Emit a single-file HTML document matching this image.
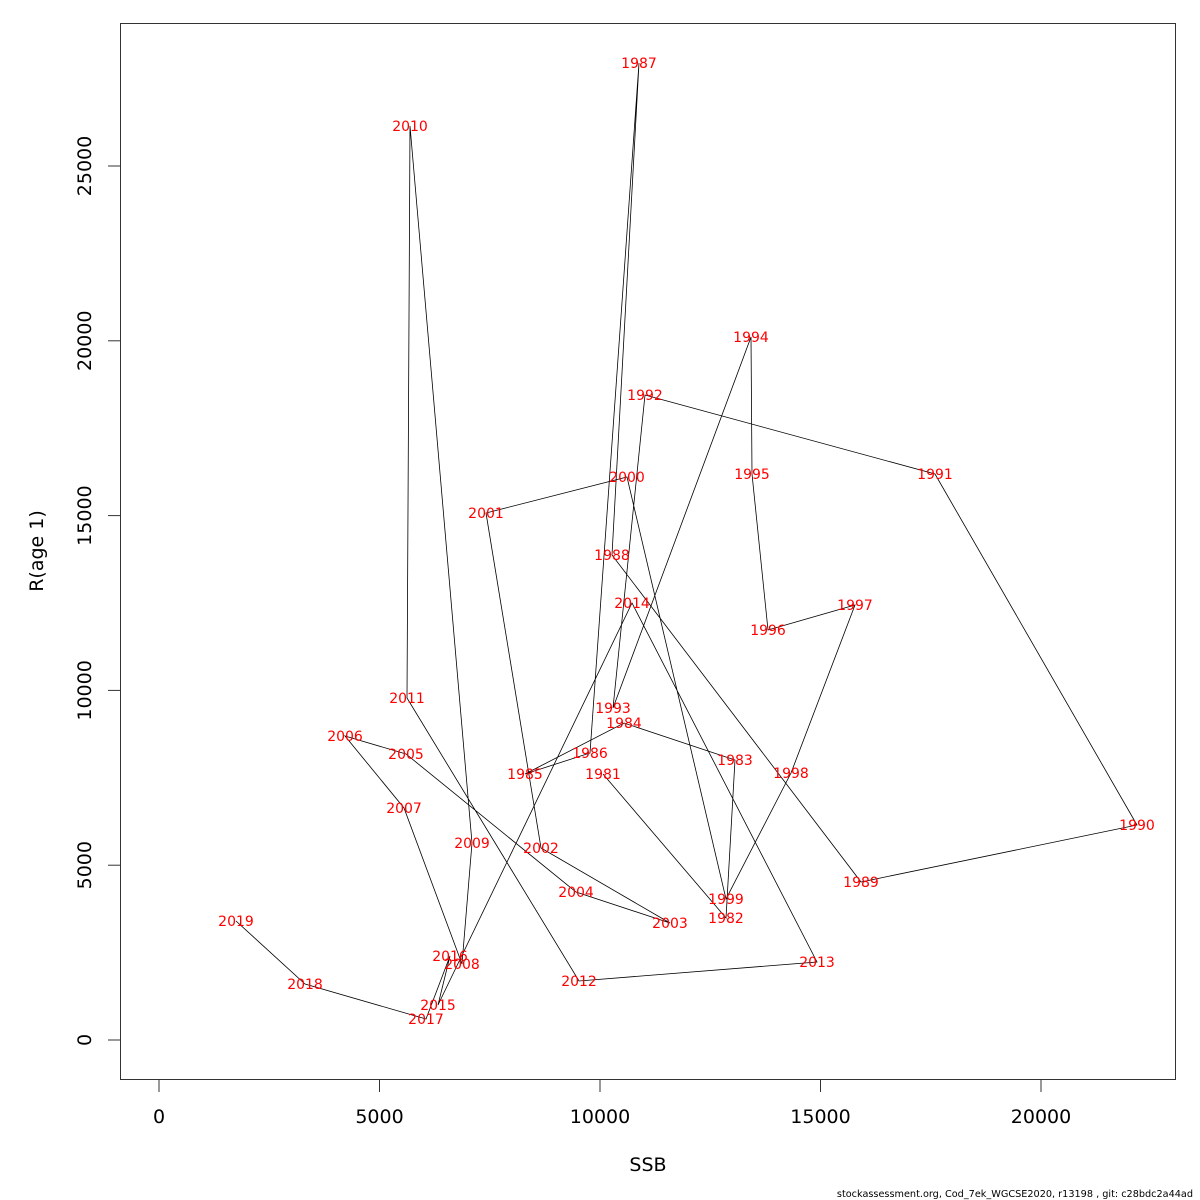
<!DOCTYPE html>
<html><head><meta charset="utf-8"><style>
html,body{margin:0;padding:0;background:#fff;}
svg{display:block;font-family:"DejaVu Sans","Liberation Sans",sans-serif;}
</style></head><body>
<svg id="chart" width="1200" height="1200" viewBox="0 0 1200 1200">
<rect x="120.5" y="23.5" width="1055" height="1056" fill="none" stroke="#333" stroke-width="1"/>
<g id="axes"></g>
<g id="series"></g>
<g id="labels"></g>
<text x="648" y="1171" font-size="19" text-anchor="middle">SSB</text>
<text transform="translate(43,551) rotate(-90)" font-size="19" text-anchor="middle">R(age 1)</text>
<text x="1193" y="1197" font-size="9.7" text-anchor="end">stockassessment.org, Cod_7ek_WGCSE2020, r13198 , git: c28bdc2a44ad</text>
</svg>
<script>
const years=[1981,1982,1983,1984,1985,1986,1987,1988,1989,1990,1991,1992,1993,1994,1995,1996,1997,1998,1999,2000,2001,2002,2003,2004,2005,2006,2007,2008,2009,2010,2011,2012,2013,2014,2015,2016,2017,2018,2019];
const ssb=[10068,12857,13061,10544,8299,9773,10884,10272,15918,22177,17596,11020,10295,13424,13447,13810,15782,14331,12857,10612,7415,8662,11587,9456,5601,4218,5556,6871,7098,5692,5624,9524,14921,10726,6327,6599,6054,3311,1746];
const rec=[7609,3490,8009,9067,7609,8209,27946,13873,4519,6150,16190,18450,9497,20109,16190,11728,12443,7637,4033,16104,15074,5492,3347,4233,8181,8696,6636,2174,5635,26144,9783,1688,2231,12500,1001,2403,601,1602,3404];
const xTicks=[0,5000,10000,15000,20000];
const yTicks=[0,5000,10000,15000,20000,25000];
const NS="http://www.w3.org/2000/svg";
function X(v){return 159+v*882/20000;}
function Y(v){return 1040-v*874/25000;}
function mk(t,a,p){const e=document.createElementNS(NS,t);for(const k in a)e.setAttribute(k,a[k]);p.appendChild(e);return e;}
const ax=document.getElementById('axes'),se=document.getElementById('series'),lb=document.getElementById('labels');
xTicks.forEach(v=>{
  const l=mk('line',{x1:X(v),x2:X(v),y1:1080,y2:1092,stroke:'#333'},ax);
  
  
  const t=mk('text',{x:X(v),y:1123,'font-size':19,'text-anchor':'middle'},ax);t.textContent=v;
  
  
});
yTicks.forEach(v=>{
  const l=mk('line',{x1:108,x2:120,y1:Y(v),y2:Y(v),stroke:'#333'},ax);
  
  
  const t=mk('text',{transform:`translate(91,${Y(v)}) rotate(-90)`,'font-size':19,'text-anchor':'middle'},ax);t.textContent=v;
  
  
});
const pts=years.map((y,i)=>X(ssb[i]).toFixed(1)+','+Y(rec[i]).toFixed(1)).join(' ');
const pl=mk('polyline',{points:pts,fill:'none',stroke:'#000','stroke-width':0.8},se);


years.forEach((y,i)=>{
  const t=mk('text',{x:X(ssb[i]),y:Y(rec[i])+5,'font-size':14,fill:'#ff0000','text-anchor':'middle'},lb);
  t.textContent=y;
  
  
});
</script>
</body></html>
